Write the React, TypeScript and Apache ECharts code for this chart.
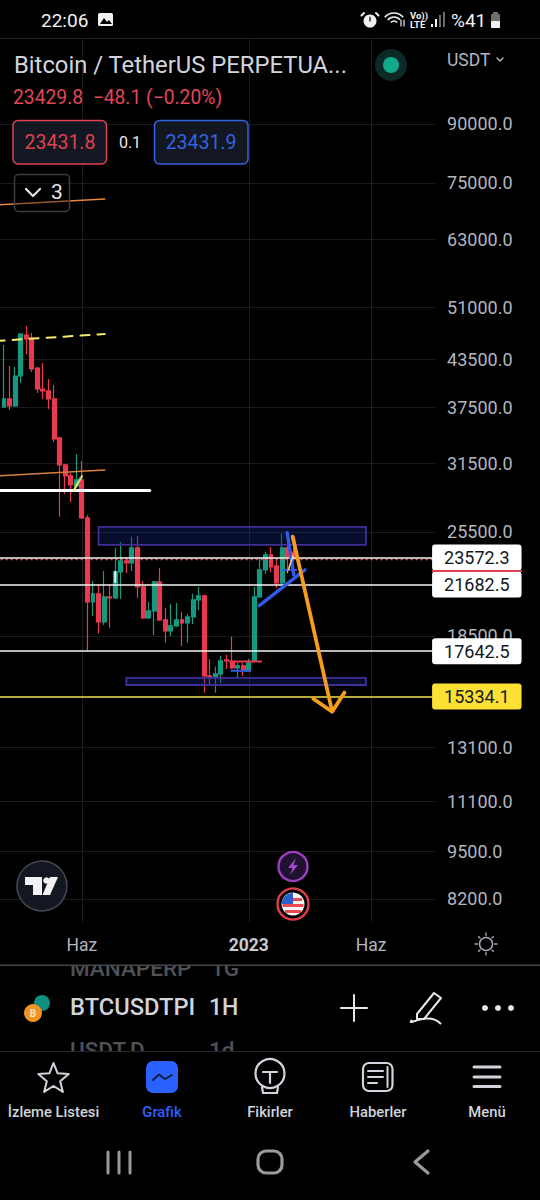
import React, { useEffect, useRef } from "react";
import * as echarts from "echarts";

const FONT = "Roboto";
const priceTicks = [90000, 75000, 63000, 51000, 43500, 37500, 31500, 25500, 18500, 13100, 11100, 9500, 8200];
const timeTicks = [14, 44, 66];
const timeTickLabels: Record<number, string> = { 14: "Haz", 44: "{b|2023}", 66: "Haz" };

// weekly candles: [open, close, low, high]
const candles = [
  [37530, 38470, 37410, 45450], [38470, 37640, 37180, 42590], [37640, 41300, 37530, 42460], [41300, 47020, 40410, 47170],
  [46870, 46300, 44200, 48200], [46450, 42200, 41810, 47170], [42330, 39670, 39180, 42460], [39670, 39430, 38470, 42990],
  [39430, 38470, 37300, 40920], [38470, 34000, 33680, 40170], [34100, 31370, 26720, 34200], [31370, 30320, 28690, 31470],
  [30320, 29490, 27980, 30610], [29400, 29950, 29300, 32450], [29950, 26630, 26550, 31760], [26630, 20540, 17660, 26880],
  [20540, 21060, 19670, 21920], [21060, 19310, 18610, 21650], [19310, 20860, 19130, 22610], [20860, 20800, 18960, 21650],
  [20800, 22540, 20730, 24270], [22540, 23320, 20730, 24730], [23320, 23180, 22470, 23610], [23180, 24270, 22610, 25120],
  [24270, 21520, 20800, 25190], [21520, 19550, 19490, 21920], [19550, 19980, 19490, 20540], [19980, 21850, 18550, 21920],
  [21850, 19430, 19370, 22820], [19430, 18780, 18100, 20170], [18780, 19070, 18480, 20420], [19070, 19430, 19010, 20480],
  [19430, 19250, 17930, 19920], [19250, 19610, 18100, 19790], [19610, 20670, 19190, 21060], [20670, 20930, 20040, 21520],
  [20930, 16340, 15510, 21000], [16340, 16290, 15840, 17220], [16290, 16440, 15510, 16820], [16440, 17120, 15990, 17390],
  [17170, 17120, 16700, 17440], [17060, 16750, 16700, 18440], [16750, 16860, 16290, 17010], [16860, 16650, 16340, 17010],
  [16600, 17010, 16550, 17220], [17120, 20860, 17060, 21520], [20860, 22680, 20800, 23460], [22680, 23750, 22400, 23970],
  [23750, 22890, 22540, 24340], [22960, 21790, 21450, 23460], [21790, 24270, 21650, 25360], [24270, 23610, 22470, 24640],
  [23970, 23460, 23250, 24270],
];
const emptyWeeksRight = 25;
const weeks = Array.from({ length: candles.length + emptyWeeksRight + 1 }, (_, i) => String(i - 1));

// drawings, in [week index, price]
const orangeTop = [[-1.5, 70050], [18.1, 71380]];
const orangeMid = [[-1.5, 30320], [18.1, 30890]];
const yellowDash = [[-1.5, 46020], [18.1, 47020]];
const whiteShort = [[-1.5, 28980], [26.2, 28980]];
const blueTriangle = [[45.9, 20310], [54.1, 22680]];
const blueSteep = [[50.9, 25450], [52.1, 22330]];
const blueSmall = [[50.0, 22680], [52.6, 22680]];
const blueFlat = [[40.9, 16610], [44.2, 16610]];
const redFlat = [[40.6, 17080], [46.2, 17080]];
const thinOrange = [[50.9, 22470], [52.0, 23860]];
const thinWhite = [[51.2, 22700], [52.0, 23700]];
const arrowShaft = [[51.9, 25130], [59.0, 14630]];
const arrowHead = [[55.6, 15230], [59.0, 14630], [61.2, 15520]];
const markerYellow = [[12.6, 29050], [14.0, 30300]];
const markerGreen = [[12.7, 29450], [13.7, 30150]];
const whiteGlint = [[20, 22550], [20, 21850]];
const zones = [
  [17.0, 25900, 65.07, 24500],
  [22.0, 16240, 65.07, 15890],
];

const currentPrice = 23429.8;
const whiteLevels = [23572.3, 21682.5, 17642.5];
const yellowLevel = 15334.1;

const title = "Bitcoin / TetherUS PERPETUA...";
const quote = "23429.8  −48.1 (−0.20%)";
const bid = "23431.8";
const ask = "23431.9";
const spread = "0.1";
const navLabels = ["İzleme Listesi", "Grafik", "Fikirler", "Haberler", "Menü"];

const GREY = "#d1d4dc";
const W = "#e8e8ea";

function starPts(cx: number, cy: number, R: number, r: number) {
  const p: number[][] = [];
  for (let i = 0; i < 10; i++) {
    const a = -Math.PI / 2 + (i * Math.PI) / 5;
    const q = i % 2 ? r : R;
    p.push([cx + q * Math.cos(a), cy + q * Math.sin(a)]);
  }
  return p;
}
const txt = (text: string, x: number, y: number, fontSize: number, fill: string, extra: any = {}) => ({
  type: "text",
  x,
  y,
  style: { text, fontSize, fill, fontFamily: FONT, verticalAlign: "middle", align: "left", ...extra },
});
const ln = (x1: number, y1: number, x2: number, y2: number, stroke: string, lineWidth = 2) => ({
  type: "line",
  shape: { x1, y1, x2, y2 },
  style: { stroke, lineWidth, lineCap: "round" },
});
const pl = (points: number[][], stroke: string, lineWidth = 2) => ({
  type: "polyline",
  shape: { points },
  style: { stroke, lineWidth, fill: "none", lineJoin: "round", lineCap: "round" },
});
const rc = (x: number, y: number, width: number, height: number, r: number, fill: string, stroke?: string, lineWidth = 1) => ({
  type: "rect",
  shape: { x, y, width, height, r },
  style: { fill, stroke, lineWidth },
});
const ci = (cx: number, cy: number, r: number, fill: string, stroke?: string, lineWidth = 1) => ({
  type: "circle",
  shape: { cx, cy, r },
  style: { fill, stroke, lineWidth },
});
const pg = (points: number[][], fill: string) => ({ type: "polygon", shape: { points }, style: { fill } });

function chrome() {
  const els: any[] = [
    // status bar
    txt("22:06", 41, 20, 19, "#f0f0f0"),
    rc(98, 13, 15, 13, 1.5, "#f0f0f0"),
    pg([[100, 24], [104, 18], [107, 22], [109, 20], [112, 24]], "#000"),
    ci(370, 21, 6.5, "#f0f0f0"),
    ln(364, 13, 361.5, 15.5, "#f0f0f0", 2),
    ln(376, 13, 378.5, 15.5, "#f0f0f0", 2),
    ln(370, 17, 370, 21, "#000", 1.2),
    { type: "arc", shape: { cx: 394, cy: 25, r: 12, startAngle: -2.45, endAngle: -0.7 }, style: { stroke: "#f0f0f0", lineWidth: 1.6, fill: "none" } },
    { type: "arc", shape: { cx: 394, cy: 25, r: 8, startAngle: -2.45, endAngle: -0.7 }, style: { stroke: "#f0f0f0", lineWidth: 1.6, fill: "none" } },
    { type: "arc", shape: { cx: 394, cy: 25, r: 4, startAngle: -2.45, endAngle: -0.7 }, style: { stroke: "#f0f0f0", lineWidth: 1.6, fill: "none" } },
    ln(401, 20, 401, 26, "#f0f0f0", 1.2),
    ln(404, 20, 404, 26, "#f0f0f0", 1.2),
    txt("Vo))", 410, 15, 9.5, "#f0f0f0", { fontWeight: 700 }),
    txt("LTE", 410, 24, 9.5, "#f0f0f0", { fontWeight: 700 }),
    rc(431, 24, 2, 3, 0, "#f0f0f0"),
    rc(435, 19, 2, 8, 0, "#f0f0f0"),
    rc(439, 15, 2, 12, 0, "#6a6a6a"),
    rc(443, 12, 2, 15, 0, "#6a6a6a"),
    txt("%41", 451, 20, 19, "#f0f0f0"),
    rc(491, 14, 9, 14, 1, "#6f6f6f"),
    rc(493, 12, 5, 2, 0, "#6f6f6f"),
    rc(491, 21, 9, 7, 1, "#f0f0f0"),
    rc(0, 38, 540, 1, 0, "#1f2029"),
    // header
    txt(title, 14, 65, 23.8, GREY),
    ci(391, 65, 16, "#0e2a26"),
    ci(391, 65, 8, "#11a88b"),
    txt("USDT", 447, 60, 17.5, "#b2b5be"),
    pl([[497, 58], [500, 61], [503, 58]], "#b2b5be", 1.5),
    txt(quote, 13, 97, 19.3, "#e04657"),
    rc(13, 120.5, 93.5, 43.5, 5, "#131722", "#df4152", 1.5),
    txt(bid, 60, 142, 19.5, "#df4152", { align: "center" }),
    txt(spread, 130, 142, 16, "#e8e8ea", { align: "center" }),
    rc(154.5, 120.5, 93.5, 43.5, 5, "#131722", "#3463e0", 1.5),
    txt(ask, 201, 142, 19.5, "#3463e0", { align: "center" }),
    rc(14.5, 174.5, 55, 37, 4, "rgba(0,0,0,0.35)", "#3c3d44", 1.5),
    pl([[26, 189], [33, 196], [40, 189]], W, 2.2),
    txt("3", 51, 192, 21, W),
    // red edge on the price tag
    rc(432, 570, 90, 2, 0, "#df4152"),
    // TV logo and event bubbles
    ci(42, 886, 25, "#131722", "#44464f", 1.6),
    pg([[25, 877], [42, 877], [42, 895], [33, 895], [33, 885], [25, 885]], "#f2f2f2"),
    ci(46.5, 880.5, 3.3, "#f2f2f2"),
    pg([[50, 877], [58, 877], [50, 895], [42.5, 895]], "#f2f2f2"),
    ci(293, 866.5, 14.5, "#1f1230", "#9c3fc0", 2.4),
    pg([[296, 858], [288, 868], [292.5, 868], [290, 875], [298, 865], [293.5, 865]], "#a347c9"),
    ci(293, 904, 15.5, "#000", "#e03e4e", 2.4),
    ci(293, 904, 11.5, "#f6f6f6"),
    rc(284, 898, 18, 3, 0, "#ea4a50"),
    rc(282.5, 904, 21, 3, 0, "#ea4a50"),
    rc(285, 910, 16, 3, 0, "#ea4a50"),
    pg([[284, 897], [287, 894.5], [293, 892.5], [293, 904], [281.5, 904], [282, 901]], "#2a62c9"),
    // sun
    ci(486, 944, 6.5, "none", "#a5a8b0", 1.5),
    ln(486, 933, 486, 935.5, "#a5a8b0", 1.3),
    ln(486, 952.5, 486, 955, "#a5a8b0", 1.3),
    ln(475, 944, 477.5, 944, "#a5a8b0", 1.3),
    ln(494.5, 944, 497, 944, "#a5a8b0", 1.3),
    ln(478.5, 936.5, 480, 938, "#a5a8b0", 1.3),
    ln(492, 950, 493.5, 951.5, "#a5a8b0", 1.3),
    ln(478.5, 951.5, 480, 950, "#a5a8b0", 1.3),
    ln(492, 938, 493.5, 936.5, "#a5a8b0", 1.3),
    // watchlist strip, texts cut off by the panels
    txt("MANAPERP", 70, 968, 22.5, "#505157", { fontWeight: 500 }),
    txt("1G", 211, 968, 22.5, "#505157", { fontWeight: 500 }),
    txt("USDT.D", 70, 1050, 22.5, "#505157", { fontWeight: 500 }),
    txt("1d", 209, 1050, 22.5, "#505157", { fontWeight: 500 }),
    rc(0, 956, 540, 9, 0, "#000"),
    rc(0, 1052, 540, 16, 0, "#000"),
    rc(0, 964.5, 540, 1.5, 0, "#45464a"),
    rc(0, 1051, 540, 1, 0, "#26272c"),
    // symbol row
    ci(42, 1003, 8, "#0f8f80"),
    ci(33, 1013, 9, "#ef9321"),
    txt("B", 33, 1013.5, 10, "#fbe4c0", { align: "center", fontWeight: 700 }),
    txt("BTCUSDTPI", 70, 1007, 23.7, GREY, { fontWeight: 500 }),
    txt("1H", 209, 1007, 23, GREY, { fontWeight: 500 }),
    ln(354, 995, 354, 1021, W, 2),
    ln(341, 1008, 367, 1008, W, 2),
    pl([[417, 1014], [434, 993], [441, 998], [424, 1019], [417, 1019], [417, 1014]], W, 2),
    { type: "bezierCurve", shape: { x1: 412, y1: 1020, x2: 441, y2: 1024, cpx1: 405, cpy1: 1028, cpx2: 428, cpy2: 1010 }, style: { stroke: W, lineWidth: 2, fill: "none" } },
    ci(485, 1008, 3, W),
    ci(498, 1008, 3, W),
    ci(511, 1008, 3, W),
    // bottom nav
    { type: "polygon", shape: { points: starPts(53.5, 1079, 16, 7) }, style: { fill: "none", stroke: GREY, lineWidth: 2, lineJoin: "round" } },
    txt(navLabels[0], 53.5, 1112, 14.8, GREY, { align: "center", fontWeight: 500 }),
    rc(146, 1061, 32, 32, 7, "#2962ff"),
    pl([[153, 1080], [159, 1074.5], [165, 1079], [172, 1075]], "#0e1c40", 2),
    txt(navLabels[1], 162, 1112, 14.8, "#2962ff", { align: "center", fontWeight: 500 }),
    ci(270, 1073.5, 14.5, "none", GREY, 2.2),
    ln(263, 1072, 277, 1072, GREY, 2.2),
    ln(270, 1072, 270, 1083, GREY, 2.2),
    pl([[262, 1087], [263, 1093], [277, 1093], [278, 1087]], GREY, 2.2),
    txt(navLabels[2], 270, 1112, 14.8, GREY, { align: "center", fontWeight: 500 }),
    rc(363, 1063, 29.5, 28, 6, "none", GREY, 2.2),
    ln(368, 1071, 383, 1071, GREY, 2),
    ln(368, 1077, 383, 1077, GREY, 2),
    ln(368, 1083, 377, 1083, GREY, 2),
    ln(387.5, 1067, 387.5, 1087, GREY, 2),
    txt(navLabels[3], 378, 1112, 14.8, GREY, { align: "center", fontWeight: 500 }),
    ln(474, 1067, 500, 1067, GREY, 3),
    ln(474, 1077, 500, 1077, GREY, 3),
    ln(474, 1086.5, 500, 1086.5, GREY, 3),
    txt(navLabels[4], 487, 1112, 14.8, GREY, { align: "center", fontWeight: 500 }),
    // android bar
    ln(108, 1152, 108, 1173, "#9a9a9a", 3),
    ln(119, 1152, 119, 1173, "#9a9a9a", 3),
    ln(130, 1152, 130, 1173, "#9a9a9a", 3),
    rc(258, 1151, 24, 22, 8, "none", "#9a9a9a", 3.2),
    pl([[428, 1151], [415, 1162], [428, 1173]], "#9a9a9a", 3.2),
  ];
  return els.map((e) => ({ ...e, z: 50, silent: true }));
}

const drawing = (data: number[][], color: string, width: number, type: any = "solid") => ({
  type: "line",
  xAxisIndex: 1,
  yAxisIndex: 0,
  data,
  symbol: "none",
  silent: true,
  z: 6,
  lineStyle: { color, width, type, cap: "round" },
});

const tag = (value: number, bg: string) => ({
  yAxis: value,
  lineStyle: { color: bg === "#ffffff" ? "#f5f5f5" : "#f1e24f", width: bg === "#ffffff" ? 1.6 : 1.6, type: "solid" },
  label: {
    show: true,
    position: "end",
    distance: -3,
    formatter: value.toFixed(1),
    backgroundColor: bg,
    color: "#131722",
    fontFamily: FONT,
    fontSize: 18,
    padding: [4, 12, 4, 12],
    lineHeight: 18,
    borderRadius: 3,
  },
});

export default function App() {
  const ref = useRef<HTMLDivElement>(null);
  useEffect(() => {
    document.body.style.margin = "0";
    document.body.style.background = "#000";
    const chart = echarts.init(ref.current!, undefined, { renderer: "svg" });
    chart.setOption({
      animation: false,
      backgroundColor: "#000",
      textStyle: { fontFamily: FONT },
      grid: { left: -4.34, top: 38, width: 439.44, height: 884, containLabel: false, outerBoundsMode: "none" },
      xAxis: [
        { type: "category", data: weeks, show: false, boundaryGap: true },
        {
          type: "value",
          min: -1.5,
          max: 77.5,
          position: "bottom",
          axisLine: { show: false },
          axisTick: { show: false, customValues: timeTicks },
          splitLine: { show: true, lineStyle: { color: "#1b1c20", width: 1 } },
          axisLabel: {
            show: true,
            customValues: timeTicks,
            margin: 14,
            color: "#b2b5be",
            fontFamily: FONT,
            fontSize: 17.5,
            formatter: (v: number) => timeTickLabels[v] ?? "",
            rich: { b: { fontFamily: FONT, fontSize: 17.5, fontWeight: 700, color: "#c8cad0" } },
          },
        },
      ],
      yAxis: {
        type: "log",
        min: 7637,
        max: 117405,
        position: "right",
        axisLine: { show: false },
        axisTick: { show: false, customValues: priceTicks },
        splitLine: { show: true, lineStyle: { color: "#1b1c20", width: 1 } },
        axisLabel: {
          show: true,
          customValues: priceTicks,
          inside: false,
          margin: 12,
          align: "left",
          color: "#b2b5be",
          fontFamily: FONT,
          fontSize: 18,
          formatter: (v: number) => v.toFixed(1),
        },
      },
      graphic: { elements: chrome() },
      series: [
        {
          type: "candlestick",
          xAxisIndex: 0,
          yAxisIndex: 0,
          z: 2,
          silent: true,
          barWidth: 4.4,
          data: candles.map((c, i) => [i + 1, ...c]),
          encode: { x: 0, y: [1, 2, 3, 4] },
          itemStyle: { color: "#159a80", color0: "#e9394f", borderColor: "#159a80", borderColor0: "#e9394f", borderWidth: 1.2 },
        },
        {
          type: "custom",
          xAxisIndex: 1,
          yAxisIndex: 0,
          z: 4,
          silent: true,
          data: zones,
          encode: { x: [0, 2], y: [1, 3] },
          renderItem: (_: any, api: any) => {
            const a = api.coord([api.value(0), api.value(1)]);
            const b = api.coord([api.value(2), api.value(3)]);
            return {
              type: "rect",
              shape: { x: a[0], y: a[1], width: b[0] - a[0], height: b[1] - a[1] },
              style: { fill: "rgba(20,40,125,0.36)", stroke: "#3f2f94", lineWidth: 1.8 },
            };
          },
        },
        {
          type: "line",
          xAxisIndex: 1,
          yAxisIndex: 0,
          data: [],
          z: 5,
          silent: true,
          markLine: {
            silent: true,
            symbol: ["none", "none"],
            animation: false,
            data: [
              {
                yAxis: currentPrice,
                lineStyle: { color: "#e9505f", width: 1.3, type: [2, 3] },
                label: { show: false },
              },
              ...whiteLevels.map((v) => tag(v, "#ffffff")),
              tag(yellowLevel, "#fce033"),
            ],
          },
        },
        drawing(orangeTop, "#e8863a", 1.6),
        drawing(orangeMid, "#d9803a", 1.6),
        drawing(yellowDash, "#f3ec6d", 2, [9, 8]),
        drawing(whiteShort, "#ffffff", 3),
        drawing(redFlat, "#e9394f", 2),
        drawing(blueFlat, "#2f5be8", 2),
        drawing(blueTriangle, "#2f5be8", 3.4),
        drawing(blueSmall, "#2f5be8", 1.6),
        drawing(blueSteep, "#2f5be8", 3.4),
        drawing(thinOrange, "#f0a030", 1.2),
        drawing(thinWhite, "#f0eadc", 1),
        drawing(arrowShaft, "#f59c1c", 3.8),
        drawing(arrowHead, "#f59c1c", 3.8),
        drawing(markerYellow, "#f3ec6d", 2),
        drawing(markerGreen, "#57c271", 1.5),
        drawing(whiteGlint, "#e8fff8", 2),
      ],
    });
    return () => chart.dispose();
  }, []);
  return <div ref={ref} style={{ width: 540, height: 1200, background: "#000" }} />;
}
